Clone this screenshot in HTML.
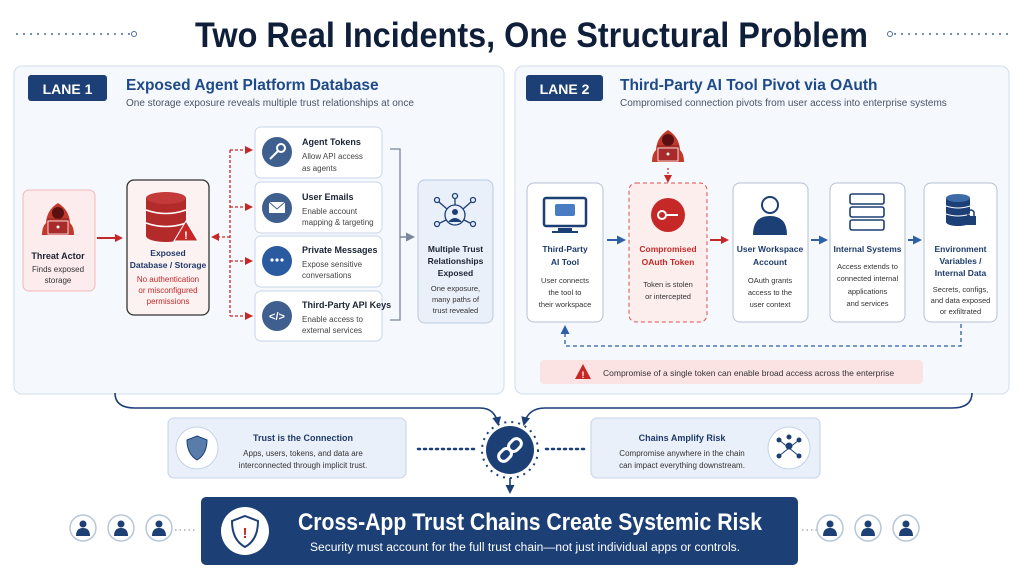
<!DOCTYPE html>
<html><head><meta charset="utf-8"><style>
html,body{margin:0;padding:0;background:#fff}
svg{display:block}
text{font-family:"Liberation Sans",sans-serif}
</style></head><body>
<svg width="1024" height="576" viewBox="0 0 1024 576" xmlns="http://www.w3.org/2000/svg">
<defs>
<marker id="ar" markerWidth="8" markerHeight="8" refX="6" refY="4" orient="auto" markerUnits="userSpaceOnUse"><path d="M0,0 L8,4 L0,8 z" fill="#c62828"/></marker>
<marker id="ab" markerWidth="9" markerHeight="9" refX="7" refY="4.5" orient="auto" markerUnits="userSpaceOnUse"><path d="M0,0 L9,4.5 L0,9 z" fill="#2f5fa5"/></marker>
<marker id="an" markerWidth="9" markerHeight="9" refX="7" refY="4.5" orient="auto" markerUnits="userSpaceOnUse"><path d="M0,0 L9,4.5 L0,9 z" fill="#1c3f75"/></marker>
<marker id="ag" markerWidth="9" markerHeight="9" refX="7" refY="4.5" orient="auto" markerUnits="userSpaceOnUse"><path d="M0,0 L9,4.5 L0,9 z" fill="#7a8699"/></marker>
<g id="hacker"><path d="M-12,12 Q-13,-4 0,-12 Q13,-4 12,12 z" fill="#c0392b"/><circle cx="0" cy="-2" r="6" fill="#5a1010"/><rect x="-10" y="4" width="20" height="12" fill="#c0392b" stroke="#8e1f1f"/><path d="M-16,20 Q-16,8 -8,6 L8,6 Q16,8 16,20z" fill="#c0392b"/><rect x="-10" y="6" width="20" height="13" fill="#a82a2a" stroke="#fff" stroke-width="0.8"/><circle cx="0" cy="12" r="1.5" fill="#fff"/></g>
<g id="person"><circle r="13" fill="#fff" stroke="#b8c6da" stroke-width="1.5"/><circle cy="-4" r="3.5" fill="#1c3f75"/><path d="M-7,8 Q-7,0 0,0 Q7,0 7,8z" fill="#1c3f75"/></g>
</defs>

<!-- title -->
<text x="195" y="47" textLength="673" lengthAdjust="spacingAndGlyphs" font-size="35" font-weight="bold" fill="#0f1f3a">Two Real Incidents, One Structural Problem</text>
<line x1="16" y1="34" x2="130" y2="34" stroke="#4a6a9a" stroke-width="1.5" stroke-dasharray="2 5"/>
<circle cx="134" cy="34" r="2.5" fill="none" stroke="#4a6a9a"/>
<line x1="894" y1="34" x2="1008" y2="34" stroke="#4a6a9a" stroke-width="1.5" stroke-dasharray="2 5"/>
<circle cx="890" cy="34" r="2.5" fill="none" stroke="#4a6a9a"/>

<!-- lane 1 -->
<rect x="14" y="66" width="490" height="328" rx="8" fill="#f5f8fc" stroke="#d3deec"/>
<rect x="28" y="75" width="79" height="26" rx="3" fill="#1c3f75"/>
<text x="67.5" y="94" text-anchor="middle" font-size="14" font-weight="bold" fill="#fff">LANE 1</text>
<text x="126" y="90" font-size="15.5" font-weight="bold" fill="#1e4a8a">Exposed Agent Platform Database</text>
<text x="126" y="106" font-size="10" fill="#4a5568">One storage exposure reveals multiple trust relationships at once</text>

<rect x="23" y="190" width="72" height="101" rx="6" fill="#fdeced" stroke="#f2b8b8"/>
<use href="#hacker" x="58" y="215"/>
<text x="58" y="259" text-anchor="middle" font-size="9" font-weight="bold" fill="#1a2333">Threat Actor</text>
<text x="58" y="272" text-anchor="middle" font-size="8" fill="#333">Finds exposed</text>
<text x="58" y="283" text-anchor="middle" font-size="8" fill="#333">storage</text>
<line x1="97" y1="238" x2="121" y2="238" stroke="#c62828" stroke-width="2" marker-end="url(#ar)"/>

<rect x="127" y="180" width="82" height="135" rx="7" fill="#fdf2f2" stroke="#333" stroke-width="1.3"/>
<g transform="translate(166,198)"><rect x="-20" y="0" width="40" height="38" fill="#b22a2a"/><ellipse cx="0" cy="0" rx="20" ry="6" fill="#c43a3a"/><path d="M-20,12 Q0,19 20,12 M-20,25 Q0,32 20,25" stroke="#fff" stroke-width="1.5" fill="none"/><ellipse cx="0" cy="38" rx="20" ry="6" fill="#b22a2a"/></g>
<path d="M186,221 L198,241 L174,241z" fill="#c62828" stroke="#fff"/>
<text x="186" y="239" text-anchor="middle" font-size="11" font-weight="bold" fill="#fff">!</text>
<text x="168" y="256" text-anchor="middle" font-size="8.5" font-weight="bold" fill="#1e3a6a">Exposed</text>
<text x="168" y="268" text-anchor="middle" font-size="8.5" font-weight="bold" fill="#1e3a6a">Database / Storage</text>
<text x="168" y="282" text-anchor="middle" font-size="8" fill="#c62828">No authentication</text>
<text x="168" y="293" text-anchor="middle" font-size="8" fill="#c62828">or misconfigured</text>
<text x="168" y="304" text-anchor="middle" font-size="8" fill="#c62828">permissions</text>

<g stroke="#c62828" stroke-width="1.3" stroke-dasharray="3 2" fill="none">
<path d="M230,237 L213,237" marker-end="url(#ar)"/>
<path d="M230,150 L230,316"/>
<path d="M230,150 L251,150" marker-end="url(#ar)"/>
<path d="M230,207 L251,207" marker-end="url(#ar)"/>
<path d="M230,261 L251,261" marker-end="url(#ar)"/>
<path d="M230,316 L251,316" marker-end="url(#ar)"/>
</g>

<g font-size="8">
<rect x="255" y="127" width="127" height="51" rx="6" fill="#fff" stroke="#c8d6ea"/>
<circle cx="277" cy="152" r="15" fill="#3f5f8f"/><circle cx="281" cy="148" r="4" fill="none" stroke="#fff" stroke-width="2"/><line x1="278" y1="151" x2="270" y2="159" stroke="#fff" stroke-width="2"/>
<text x="302" y="145" font-weight="bold" font-size="9" fill="#1a2333">Agent Tokens</text>
<text x="302" y="159" fill="#444">Allow API access</text><text x="302" y="171" fill="#444">as agents</text>
<rect x="255" y="182" width="127" height="51" rx="6" fill="#fff" stroke="#c8d6ea"/>
<circle cx="277" cy="208" r="15" fill="#3f5f8f"/><rect x="269" y="202" width="16" height="11" fill="#fff"/><path d="M269,202 L277,209 L285,202" stroke="#3f5f8f" fill="none"/>
<text x="302" y="200" font-weight="bold" font-size="9" fill="#1a2333">User Emails</text>
<text x="302" y="214" fill="#444">Enable account</text><text x="302" y="225" fill="#444">mapping &amp; targeting</text>
<rect x="255" y="236" width="127" height="51" rx="6" fill="#fff" stroke="#c8d6ea"/>
<circle cx="277" cy="261" r="15" fill="#2a5aa0"/><circle cx="272" cy="260" r="1.6" fill="#fff"/><circle cx="277" cy="260" r="1.6" fill="#fff"/><circle cx="282" cy="260" r="1.6" fill="#fff"/>
<text x="302" y="253" font-weight="bold" font-size="9" fill="#1a2333">Private Messages</text>
<text x="302" y="267" fill="#444">Expose sensitive</text><text x="302" y="278" fill="#444">conversations</text>
<rect x="255" y="291" width="127" height="50" rx="6" fill="#fff" stroke="#c8d6ea"/>
<circle cx="277" cy="316" r="15" fill="#3f5f8f"/><text x="277" y="320" text-anchor="middle" font-size="11" font-weight="bold" fill="#fff">&lt;/&gt;</text>
<text x="302" y="308" font-weight="bold" font-size="9" fill="#1a2333">Third-Party API Keys</text>
<text x="302" y="322" fill="#444">Enable access to</text><text x="302" y="333" fill="#444">external services</text>
</g>
<path d="M390,149 L400,149 L400,320 L390,320" stroke="#7a8699" stroke-width="1.3" fill="none"/>
<line x1="400" y1="237" x2="413" y2="237" stroke="#7a8699" stroke-width="1.5" marker-end="url(#ag)"/>
<rect x="418" y="180" width="75" height="143" rx="7" fill="#eaf0f9" stroke="#b8cae4"/>
<g stroke="#1c3f75" stroke-width="1.3" fill="none"><circle cx="455" cy="215" r="10"/><line x1="455" y1="205" x2="455" y2="198"/><circle cx="455" cy="196" r="2.5"/><line x1="447" y1="209" x2="439" y2="202"/><circle cx="437" cy="200" r="2.5"/><line x1="463" y1="209" x2="471" y2="202"/><circle cx="473" cy="200" r="2.5"/><line x1="446" y1="220" x2="440" y2="223"/><circle cx="437" cy="224" r="2.5"/><line x1="464" y1="220" x2="470" y2="223"/><circle cx="473" cy="224" r="2.5"/></g>
<circle cx="455" cy="212" r="3" fill="#1c3f75"/><path d="M448,222 Q455,214 462,222z" fill="#1c3f75"/>
<text x="455.5" y="252" text-anchor="middle" font-size="8.5" font-weight="bold" fill="#1a2333">Multiple Trust</text>
<text x="455.5" y="264" text-anchor="middle" font-size="8.5" font-weight="bold" fill="#1a2333">Relationships</text>
<text x="455.5" y="276" text-anchor="middle" font-size="8.5" font-weight="bold" fill="#1a2333">Exposed</text>
<text x="455.5" y="291" text-anchor="middle" font-size="7.5" fill="#333">One exposure,</text>
<text x="455.5" y="302" text-anchor="middle" font-size="7.5" fill="#333">many paths of</text>
<text x="455.5" y="313" text-anchor="middle" font-size="7.5" fill="#333">trust revealed</text>

<!-- lane 2 -->
<rect x="515" y="66" width="494" height="328" rx="8" fill="#f5f8fc" stroke="#d3deec"/>
<rect x="526" y="75" width="77" height="26" rx="3" fill="#1c3f75"/>
<text x="564.5" y="94" text-anchor="middle" font-size="14" font-weight="bold" fill="#fff">LANE 2</text>
<text x="620" y="90" font-size="15.5" font-weight="bold" fill="#1e4a8a">Third-Party AI Tool Pivot via OAuth</text>
<text x="620" y="106" font-size="10" fill="#4a5568">Compromised connection pivots from user access into enterprise systems</text>
<use href="#hacker" x="668" y="142"/>
<line x1="668" y1="168" x2="668" y2="181" stroke="#c62828" stroke-width="1.2" stroke-dasharray="2 2" marker-end="url(#ar)"/>

<rect x="527" y="183" width="76" height="139" rx="7" fill="#fff" stroke="#b6c2d4"/>
<rect x="544" y="198" width="42" height="28" rx="2" fill="#fff" stroke="#1c3f75" stroke-width="2.5"/><rect x="555" y="204" width="20" height="12" rx="2" fill="#4a7cc4"/><rect x="558" y="228" width="14" height="3" fill="#1c3f75"/><rect x="552" y="231" width="26" height="2" fill="#1c3f75"/>
<text x="565" y="252" text-anchor="middle" font-size="8.5" font-weight="bold" fill="#1e3a6a">Third-Party</text>
<text x="565" y="265" text-anchor="middle" font-size="8.5" font-weight="bold" fill="#1e3a6a">AI Tool</text>
<text x="565" y="283" text-anchor="middle" font-size="7.5" fill="#333">User connects</text>
<text x="565" y="295" text-anchor="middle" font-size="7.5" fill="#333">the tool to</text>
<text x="565" y="307" text-anchor="middle" font-size="7.5" fill="#333">their workspace</text>
<line x1="607" y1="240" x2="624" y2="240" stroke="#2f5fa5" stroke-width="2" marker-end="url(#ab)"/>

<rect x="629" y="183" width="78" height="139" rx="7" fill="#fdeeee" stroke="#d9534f" stroke-dasharray="4 3"/>
<circle cx="668" cy="215" r="17" fill="#c62828"/><circle cx="662" cy="215" r="4" fill="none" stroke="#fff" stroke-width="2"/><line x1="666" y1="215" x2="678" y2="215" stroke="#fff" stroke-width="2"/>
<text x="668" y="252" text-anchor="middle" font-size="8.5" font-weight="bold" fill="#c62828">Compromised</text>
<text x="668" y="265" text-anchor="middle" font-size="8.5" font-weight="bold" fill="#c62828">OAuth Token</text>
<text x="668" y="287" text-anchor="middle" font-size="7.5" fill="#333">Token is stolen</text>
<text x="668" y="299" text-anchor="middle" font-size="7.5" fill="#333">or intercepted</text>
<line x1="710" y1="240" x2="727" y2="240" stroke="#c62828" stroke-width="2" marker-end="url(#ar)"/>

<rect x="733" y="183" width="75" height="139" rx="7" fill="#fff" stroke="#b6c2d4"/>
<circle cx="770" cy="205" r="8" fill="#fff" stroke="#1c3f75" stroke-width="2"/><path d="M753,235 Q753,216 770,216 Q787,216 787,235z" fill="#1c3f75"/>
<text x="770" y="252" text-anchor="middle" font-size="8.5" font-weight="bold" fill="#1e3a6a">User Workspace</text>
<text x="770" y="265" text-anchor="middle" font-size="8.5" font-weight="bold" fill="#1e3a6a">Account</text>
<text x="770" y="283" text-anchor="middle" font-size="7.5" fill="#333">OAuth grants</text>
<text x="770" y="295" text-anchor="middle" font-size="7.5" fill="#333">access to the</text>
<text x="770" y="307" text-anchor="middle" font-size="7.5" fill="#333">user context</text>
<line x1="811" y1="240" x2="826" y2="240" stroke="#2f5fa5" stroke-width="2" marker-end="url(#ab)"/>

<rect x="830" y="183" width="75" height="139" rx="7" fill="#fff" stroke="#b6c2d4"/>
<g fill="#fff" stroke="#1c3f75" stroke-width="1.6"><rect x="850" y="194" width="34" height="10" rx="2"/><rect x="850" y="207" width="34" height="10" rx="2"/><rect x="850" y="220" width="34" height="10" rx="2"/></g>
<text x="867.5" y="252" text-anchor="middle" font-size="8.5" font-weight="bold" fill="#1e3a6a">Internal Systems</text>
<text x="867.5" y="269" text-anchor="middle" font-size="7.5" fill="#333">Access extends to</text>
<text x="867.5" y="281" text-anchor="middle" font-size="7.5" fill="#333">connected internal</text>
<text x="867.5" y="294" text-anchor="middle" font-size="7.5" fill="#333">applications</text>
<text x="867.5" y="306" text-anchor="middle" font-size="7.5" fill="#333">and services</text>
<line x1="908" y1="240" x2="920" y2="240" stroke="#2f5fa5" stroke-width="2" marker-end="url(#ab)"/>

<rect x="924" y="183" width="73" height="139" rx="7" fill="#fff" stroke="#b6c2d4"/>
<g transform="translate(958,198)"><rect x="-12" y="0" width="24" height="24" fill="#1c3f75"/><ellipse cx="0" cy="0" rx="12" ry="4" fill="#3f6aa8"/><path d="M-12,8 Q0,12 12,8 M-12,16 Q0,20 12,16" stroke="#fff" fill="none"/><ellipse cx="0" cy="24" rx="12" ry="4" fill="#1c3f75"/></g>
<rect x="966" y="216" width="10" height="9" fill="#1c3f75"/><path d="M968,216 L968,212 Q971,208 974,212 L974,216" stroke="#1c3f75" stroke-width="1.5" fill="none"/>
<text x="960.5" y="252" text-anchor="middle" font-size="8.5" font-weight="bold" fill="#1e3a6a">Environment</text>
<text x="960.5" y="264" text-anchor="middle" font-size="8.5" font-weight="bold" fill="#1e3a6a">Variables /</text>
<text x="960.5" y="276" text-anchor="middle" font-size="8.5" font-weight="bold" fill="#1e3a6a">Internal Data</text>
<text x="960.5" y="292" text-anchor="middle" font-size="7.5" fill="#333">Secrets, configs,</text>
<text x="960.5" y="303" text-anchor="middle" font-size="7.5" fill="#333">and data exposed</text>
<text x="960.5" y="314" text-anchor="middle" font-size="7.5" fill="#333">or exfiltrated</text>

<path d="M961,324 L961,346 L565,346 L565,327" stroke="#2f5fa5" stroke-width="1.3" stroke-dasharray="4 3" fill="none" marker-end="url(#ab)"/>
<rect x="540" y="360" width="383" height="24" rx="4" fill="#fbe3e3"/>
<path d="M583,364 L591,379 L575,379z" fill="#c62828"/><text x="583" y="378" text-anchor="middle" font-size="9" font-weight="bold" fill="#fff">!</text>
<text x="603" y="376" font-size="8.5" fill="#333">Compromise of a single token can enable broad access across the enterprise</text>

<!-- bottom connectors -->
<path d="M115,393 Q115,408 135,408 L480,408 Q495,408 498,424" stroke="#1c3f75" stroke-width="1.6" fill="none" marker-end="url(#an)"/>
<path d="M972,393 Q972,408 952,408 L545,408 Q528,408 524,424" stroke="#1c3f75" stroke-width="1.6" fill="none" marker-end="url(#an)"/>

<rect x="168" y="418" width="238" height="60" rx="6" fill="#eaf0f9" stroke="#c4d3e8"/>
<circle cx="197" cy="448" r="21" fill="#fff" stroke="#c4d3e8"/>
<path d="M197,436 L207,440 Q207,454 197,460 Q187,454 187,440z" fill="#5a7cab" stroke="#1c3f75"/>
<text x="303" y="441" text-anchor="middle" font-size="9" font-weight="bold" fill="#1e3a6a">Trust is the Connection</text>
<text x="303" y="456" text-anchor="middle" font-size="8" fill="#333">Apps, users, tokens, and data are</text>
<text x="303" y="468" text-anchor="middle" font-size="8" fill="#333">interconnected through implicit trust.</text>
<line x1="418" y1="449" x2="478" y2="449" stroke="#1c3f75" stroke-width="2.5" stroke-dasharray="2 4" stroke-linecap="round"/>
<line x1="546" y1="449" x2="584" y2="449" stroke="#1c3f75" stroke-width="2.5" stroke-dasharray="2 4" stroke-linecap="round"/>
<circle cx="510" cy="450" r="28" fill="none" stroke="#1c3f75" stroke-width="2" stroke-dasharray="2 5"/>
<circle cx="510" cy="450" r="24" fill="#1c3f75"/>
<g stroke="#fff" stroke-width="3" fill="none" transform="rotate(-45 510 450)"><rect x="496" y="445" width="14" height="10" rx="5"/><rect x="510" y="445" width="14" height="10" rx="5"/></g>
<line x1="510" y1="478" x2="510" y2="492" stroke="#1c3f75" stroke-width="1.6" marker-end="url(#an)"/>

<rect x="591" y="418" width="229" height="60" rx="6" fill="#eaf0f9" stroke="#c4d3e8"/>
<circle cx="789" cy="448" r="21" fill="#fff" stroke="#c4d3e8"/>
<g stroke="#1c3f75" fill="#1c3f75"><line x1="789" y1="448" x2="779" y2="440"/><line x1="789" y1="448" x2="799" y2="440"/><line x1="789" y1="448" x2="779" y2="456"/><line x1="789" y1="448" x2="799" y2="456"/><circle cx="779" cy="440" r="2"/><circle cx="799" cy="440" r="2"/><circle cx="779" cy="456" r="2"/><circle cx="799" cy="456" r="2"/><circle cx="789" cy="437" r="2"/><circle cx="789" cy="446" r="3"/></g>
<text x="682" y="441" text-anchor="middle" font-size="9" font-weight="bold" fill="#1e3a6a">Chains Amplify Risk</text>
<text x="682" y="456" text-anchor="middle" font-size="8" fill="#333">Compromise anywhere in the chain</text>
<text x="682" y="468" text-anchor="middle" font-size="8" fill="#333">can impact everything downstream.</text>

<rect x="201" y="497" width="597" height="68" rx="5" fill="#1c3f75"/>
<circle cx="245" cy="531" r="24" fill="#fff"/>
<path d="M245,516 L258,521 Q258,540 245,547 Q232,540 232,521z" fill="#fff" stroke="#1c3f75" stroke-width="2"/>
<text x="245" y="538" text-anchor="middle" font-size="15" font-weight="bold" fill="#c62828">!</text>
<text x="298" y="530" textLength="464" lengthAdjust="spacingAndGlyphs" font-size="24" font-weight="bold" fill="#fff">Cross-App Trust Chains Create Systemic Risk</text>
<text x="310" y="551" textLength="430" lengthAdjust="spacingAndGlyphs" font-size="11.5" fill="#fff">Security must account for the full trust chain—not just individual apps or controls.</text>

<use href="#person" x="83" y="528"/><use href="#person" x="121" y="528"/><use href="#person" x="159" y="528"/>
<line x1="175" y1="530" x2="197" y2="530" stroke="#7a8699" stroke-dasharray="1.5 3"/>
<line x1="802" y1="530" x2="822" y2="530" stroke="#7a8699" stroke-dasharray="1.5 3"/>
<use href="#person" x="830" y="528"/><use href="#person" x="868" y="528"/><use href="#person" x="906" y="528"/>
</svg>
</body></html>
